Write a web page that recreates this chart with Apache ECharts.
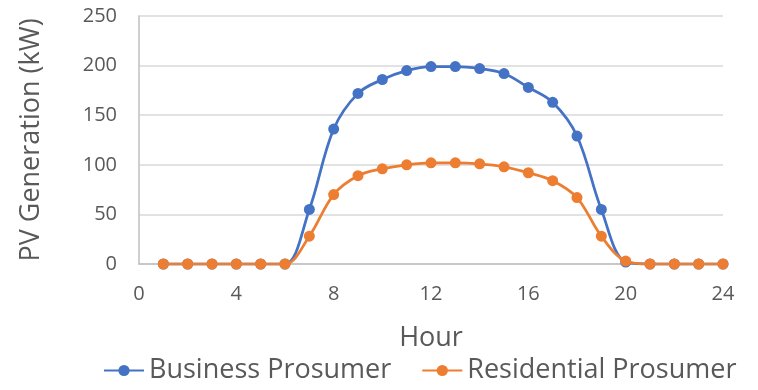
<!DOCTYPE html>
<html>
<head>
<meta charset="utf-8">
<script src="https://cdn.jsdelivr.net/npm/echarts@6/dist/echarts.min.js"></script>
<style>html,body{margin:0;padding:0;background:#fff}#c{width:758px;height:390px}</style>
</head>
<body>
<div id="c"></div>
<script>
const hours = [1,2,3,4,5,6,7,8,9,10,11,12,13,14,15,16,17,18,19,20,21,22,23,24];
const business = [0,0,0,0,0,0,55,136,172,186,195,199,199,197,192,178,163,129,55,2,0,0,0,0];
const residential = [0,0,0,0,0,0,28,70,89,96,100,102,102,101,98,92,84,67,28,3,0,0,0,0];
const seriesNames = ['Business Prosumer','Residential Prosumer'];
const xTicks = {min:0, max:24, interval:4};
const yTicks = {min:0, max:250, interval:50};

const font = 'Open Sans';
const txt = '#595959';
const chart = echarts.init(document.getElementById('c'), null, {renderer:'canvas'});
const pair = (vals) => hours.map((h,i)=>[h, vals[i]]);
chart.setOption({
  animation:false,
  grid:{left:139, right:35, top:16, bottom:126, containLabel:false},
  legend:{
    data:seriesNames, bottom:1, left:98, itemWidth:40, itemHeight:14, itemGap:30,
    textStyle:{fontFamily:font, fontSize:27, color:txt, padding:[0,0,0,0]}
  },
  xAxis:{
    type:'value', min:xTicks.min, max:xTicks.max, interval:xTicks.interval,
    name:'Hour', nameLocation:'middle', nameGap:61,
    nameTextStyle:{fontFamily:font, fontSize:27, color:txt},
    axisLine:{show:true, lineStyle:{color:'#bfbfbf', width:1.5}},
    axisTick:{show:false},
    axisLabel:{fontFamily:font, fontSize:20, color:txt, margin:20},
    splitLine:{show:false}
  },
  yAxis:{
    type:'value', min:yTicks.min, max:yTicks.max, interval:yTicks.interval,
    name:'PV Generation (kW)', nameLocation:'middle', nameGap:94, nameRotate:90,
    nameTextStyle:{fontFamily:font, fontSize:27, color:txt},
    axisLine:{show:true, lineStyle:{color:'#bfbfbf', width:1.5}},
    axisTick:{show:false},
    axisLabel:{fontFamily:font, fontSize:20, color:txt, margin:22},
    splitLine:{show:true, lineStyle:{color:'#d9d9d9', width:1.5}}
  },
  series:[
    {name:seriesNames[0], type:'line', data:pair(business), smooth:0.35,
     symbol:'circle', symbolSize:11, color:'#4472C4',
     lineStyle:{width:2.75, color:'#4472C4'}, itemStyle:{color:'#4472C4'}, z:2},
    {name:seriesNames[1], type:'line', data:pair(residential), smooth:0.35,
     symbol:'circle', symbolSize:11, color:'#ED7D31',
     lineStyle:{width:2.75, color:'#ED7D31'}, itemStyle:{color:'#ED7D31'}, z:3}
  ]
});
</script>
</body>
</html>
